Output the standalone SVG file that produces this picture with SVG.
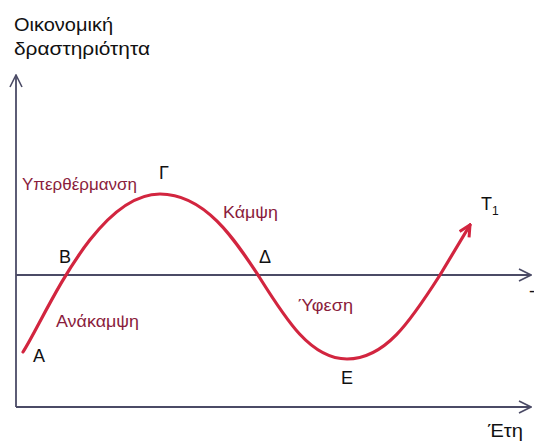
<svg xmlns="http://www.w3.org/2000/svg" width="534" height="441" viewBox="0 0 534 441">
<style>
.lbl{font-family:"Liberation Sans",Arial,sans-serif;font-size:18px;fill:#111}
.ttl{font-family:"Liberation Sans",Arial,sans-serif;font-size:18px;fill:#111}
.ph{font-family:"Liberation Sans",Arial,sans-serif;font-size:16.5px;fill:#8a1c3c}
.axis{stroke:#4b4b66;stroke-width:1.8;fill:none}
.curve{stroke:#d2253f;stroke-width:3.2;fill:none;stroke-linecap:round}
</style>
<defs>
<marker id="ax" viewBox="0 0 14 14" refX="13" refY="7" markerWidth="14" markerHeight="14" markerUnits="userSpaceOnUse" orient="auto">
<path d="M1,1 L13,7 L1,13" fill="none" stroke="#4b4b66" stroke-width="1.6"/>
</marker>
<marker id="rd" viewBox="0 0 14 14" refX="12" refY="7" markerWidth="14" markerHeight="14" markerUnits="userSpaceOnUse" orient="auto">
<path d="M1,1.5 L12,7 L1,12.5" fill="none" stroke="#d2253f" stroke-width="3" stroke-linejoin="miter"/>
</marker>
</defs>
<g id="connectors">
<path class="axis" d="M16,407 L16,75" marker-end="url(#ax)"/>
<path class="axis" d="M16,407 L531,407" marker-end="url(#ax)"/>
<path class="axis" d="M16,275 L531,275" marker-end="url(#ax)"/>
<path id="cycle" class="curve" d="M23,352 C 45,318 95,194 160,194 C 205,194 235,240 258,275 C 285,318 310,359 347,359 C 385,359 410,322 440,275 L 470,225" marker-end="url(#rd)"/>
</g>
<g id="ylabel"><text class="ttl" x="14" y="31" textLength="99" lengthAdjust="spacingAndGlyphs">Οικονομική</text><text class="ttl" x="14" y="55" textLength="136" lengthAdjust="spacingAndGlyphs">δραστηριότητα</text></g>
<g id="xlabel"><text class="ttl" x="488" y="437" textLength="35" lengthAdjust="spacingAndGlyphs">Έτη</text></g>
<g id="dash"><text class="ttl" x="529" y="297">-</text></g>
<g id="nA"><text class="lbl" x="33" y="362">Α</text></g>
<g id="nB"><text class="lbl" x="59" y="263">Β</text></g>
<g id="nG"><text class="lbl" x="159" y="179">Γ</text></g>
<g id="nD"><text class="lbl" x="259" y="263">Δ</text></g>
<g id="nE"><text class="lbl" x="341" y="384">Ε</text></g>
<g id="nT"><text class="lbl" x="481" y="210">Τ<tspan font-size="12" dy="5">1</tspan></text></g>
<g id="p1"><text class="ph" x="22" y="190" textLength="115" lengthAdjust="spacingAndGlyphs">Υπερθέρμανση</text></g>
<g id="p2"><text class="ph" x="223" y="218" textLength="55" lengthAdjust="spacingAndGlyphs">Κάμψη</text></g>
<g id="p3"><text class="ph" x="298" y="311" textLength="55" lengthAdjust="spacingAndGlyphs">Ύφεση</text></g>
<g id="p4"><text class="ph" x="56" y="327" textLength="83" lengthAdjust="spacingAndGlyphs">Ανάκαμψη</text></g>
</svg>
